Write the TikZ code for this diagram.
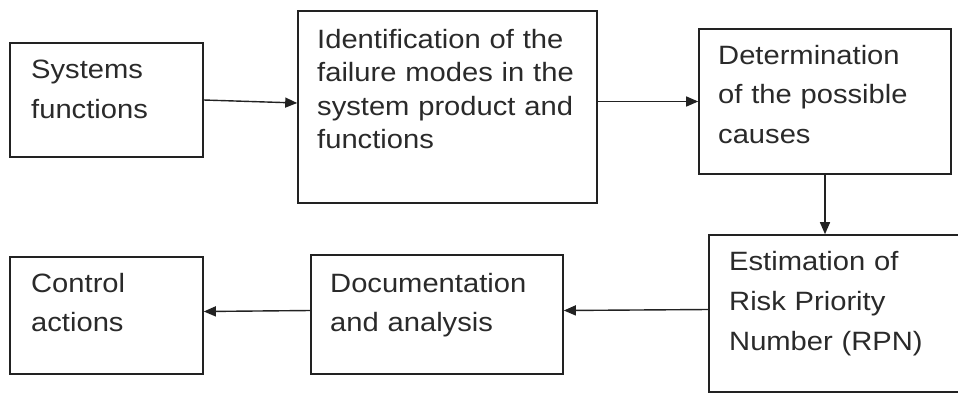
\documentclass[tikz,border=0pt]{standalone}
\usepackage{fontspec}
\setmainfont{Liberation Sans}[FakeStretch=1.1]
\usetikzlibrary{arrows.meta}
\definecolor{ink}{HTML}{222222}
\definecolor{txt}{HTML}{2A2A2A}
\tikzset{
  blk/.style={draw=ink, line width=1.6pt, rectangle, inner sep=0pt},
  lbl/.style={anchor=north west, inner sep=0pt, text width=320pt, align=left, text=txt},
  arr/.style={draw=ink, line width=1.4pt, -{Triangle[length=12pt,width=10pt]}},
}
\begin{document}
\begin{tikzpicture}[x=1pt,y=-1pt]
\clip (0,0) rectangle (958,394);
% boxes
\node[blk, minimum width=193pt, minimum height=114pt] (b1) at (106.5,100) {};
\node[blk, minimum width=299pt, minimum height=192pt] (b2) at (447.5,107) {};
\node[blk, minimum width=252pt, minimum height=145pt] (b3) at (825,101.5) {};
\node[blk, minimum width=266pt, minimum height=157pt] (b4) at (842,313.5) {};
\node[blk, minimum width=252pt, minimum height=119pt] (b5) at (437,314.5) {};
\node[blk, minimum width=193pt, minimum height=117pt] (b6) at (106.5,315.5) {};
% labels
\node[lbl, font=\fontsize{26.5}{40}\selectfont] (t1) at (31,50) {\strut Systems\\functions};
\node[lbl, font=\fontsize{26.5}{33.5}\selectfont] (t2) at (317,24.5) {\strut Identification of the\\failure modes in the\\system product and\\functions};
\node[lbl, font=\fontsize{26.5}{39.5}\selectfont] (t3) at (718,36.3) {\strut Determination\\of the possible\\causes};
\node[lbl, font=\fontsize{26.5}{40}\selectfont] (t4) at (729,242) {\strut Estimation of\\Risk Priority\\Number (RPN)};
\node[lbl, font=\fontsize{26.5}{39}\selectfont] (t5) at (330,264.7) {\strut Documentation\\and analysis};
\node[lbl, font=\fontsize{26.5}{39}\selectfont] (t6) at (31,264.7) {\strut Control\\actions};
% connectors
\draw[arr] (b1.east) -- ([yshift=4pt]b2.west);
\draw[arr] (b3.west -| b2.east) -- (b3.west);
\draw[arr] (b3.south) -- (b3.south |- b4.north);
\draw[arr] ([yshift=4pt]b4.west) -- ([yshift=4pt]b5.east);
\draw[arr] ([yshift=4pt]b5.west) -- ([yshift=4pt]b6.east);
\end{tikzpicture}
\end{document}
